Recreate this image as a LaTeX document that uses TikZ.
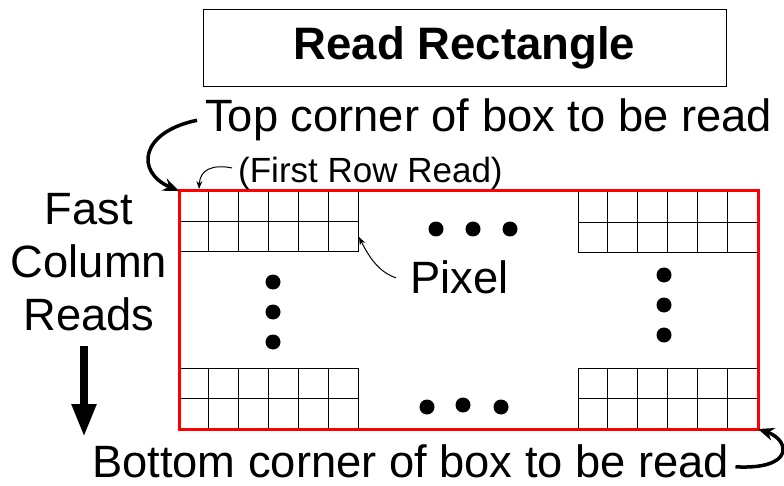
\documentclass[tikz,border=0pt]{standalone}
\usepackage{fontspec}
\setmainfont{Liberation Sans}
\usetikzlibrary{arrows.meta}
\definecolor{readRed}{RGB}{255,0,0}

\begin{document}
\begin{tikzpicture}[x=1pt,y=-1pt,
    bigtext/.style={font=\fontsize{45.3}{52}\selectfont,inner sep=2pt},
    cell/.style={draw=black,line width=1pt},
    thickcurve/.style={line width=3.5pt,-{Stealth[length=16pt,width=13pt]}},
    thincurve/.style={line width=1pt,-{Stealth[length=8pt,width=6pt]}}]
  \useasboundingbox (0,0) rectangle (784,486);
  \node[draw=black,line width=0.8pt,minimum width=523pt,minimum height=77pt,
        font=\fontsize{45.5}{52}\selectfont\bfseries] (titleBox) at (464.5,48) {Read Rectangle};
  \foreach \gx/\gy in {179/191,578/192,179/368,578/368} {
    \foreach \c in {0,...,5} {
      \foreach \r in {0,1} {
        \draw[cell] (\gx+29.9*\c,\gy+30.5*\r) rectangle ++(29.9,30.5);
      }
    }
  }
  \node[draw=readRed,line width=3pt,inner sep=0pt,outer sep=0pt,minimum width=579pt,
        minimum height=238pt,anchor=north west] (readArea) at (179,191) {};
  \foreach \x/\y in {436/229,473/229,510/229,427/407,463/405,501/407,
                     273/282,273/312,273/342,664/275,664/305,664/335}
    \fill (\x,\y) circle (7.5pt);
  \node[bigtext,anchor=base west] (topCorner) at (203,132) {Top corner of box to be read};
  \node[font=\fontsize{35}{40}\selectfont,inner sep=2pt,anchor=base west] (firstRow) at (236,183) {(First Row Read)};
  \node[bigtext,anchor=base west] (pixelLabel) at (408,294) {Pixel};
  \node[bigtext,anchor=base west] (bottomCorner) at (90,477) {Bottom corner of box to be read};
  \foreach [count=\i from 0] \w in {Fast,Column,Reads} {
    \pgfmathsetmacro{\y}{225+52.5*\i}
    \node[bigtext,anchor=base] (reads\i) at (89,\y) {\w};
  }
  \coordinate (pixelCell) at (359,237);
  \coordinate (rowStart) at (199,189);
  \coordinate (arrowTop) at (84,346);
  \coordinate (arrowTip) at (84,437);
  \draw[thickcurve] ([xshift=-6pt]topCorner.west) .. controls (140,132) and (135,172) .. (readArea.north west);
  \draw[thincurve] ([shift={(-4,-6)}]firstRow.west) .. controls (212,164) and (200,170) .. (rowStart);
  \draw[thincurve] ([xshift=-12pt]pixelLabel.west) .. controls (378,272) and (368,255) .. (pixelCell);
  \draw[thickcurve] ([shift={(4,6)}]bottomCorner.east) .. controls (795,470) and (790,440) .. (readArea.south east);
  \draw[line width=8pt,-{Triangle[length=33pt,width=23pt]}] (arrowTop) -- (arrowTip);
\end{tikzpicture}
\end{document}
